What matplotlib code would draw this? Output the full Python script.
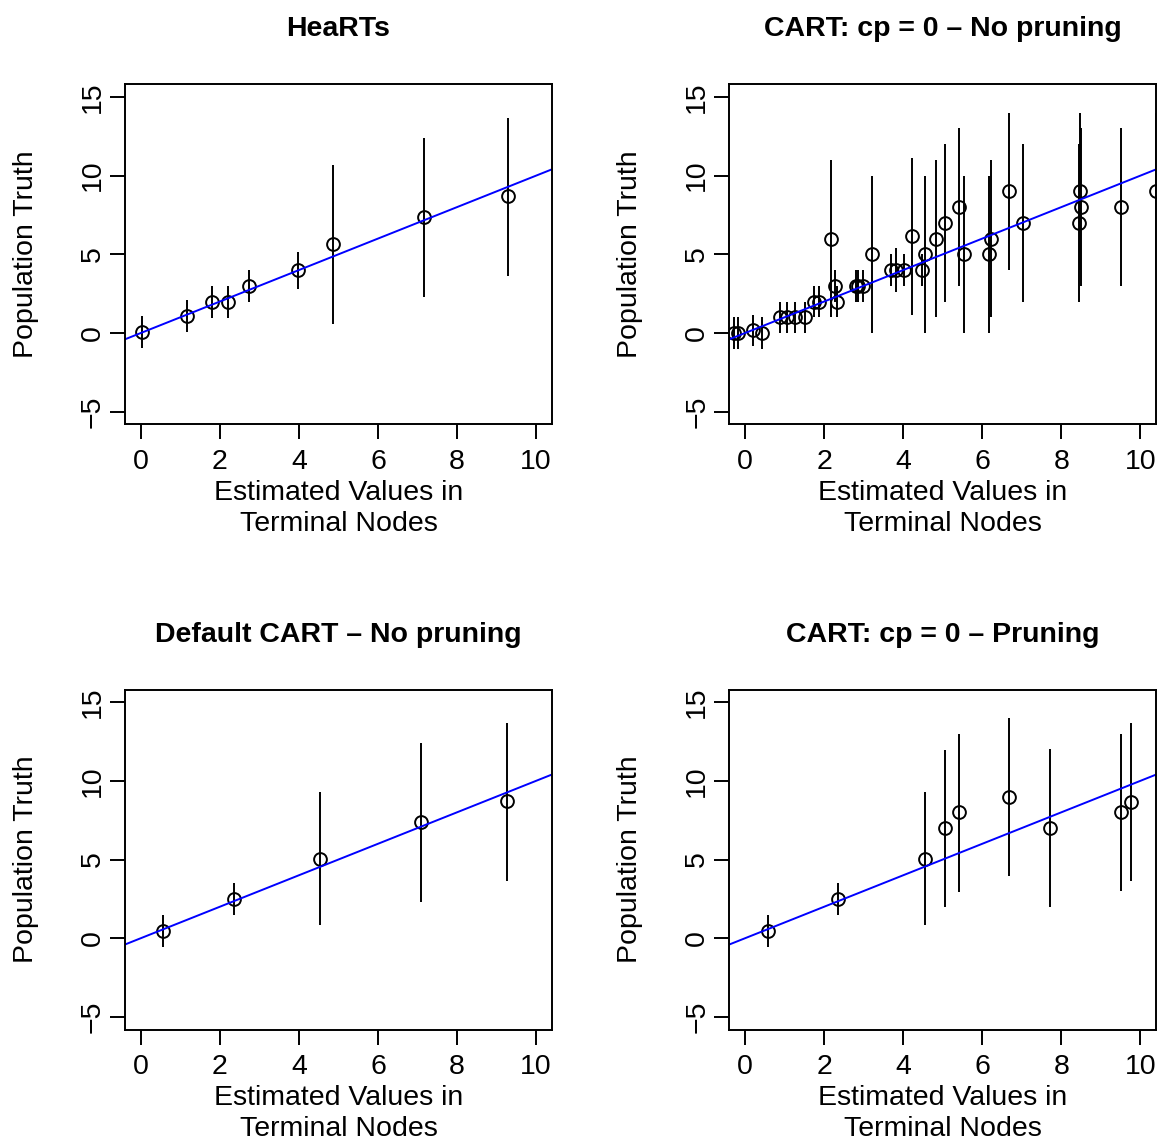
import matplotlib
matplotlib.use("Agg")
import matplotlib.pyplot as plt

plt.rcParams['font.family'] = ['Liberation Sans', 'DejaVu Sans']

# ---- data ----
titles = ["HeaRTs", "CART: cp = 0 \u2013 No pruning",
          "Default CART \u2013 No pruning", "CART: cp = 0 \u2013 Pruning"]

hearts_x = [0.03, 1.18, 1.80, 2.20, 2.74, 3.97, 4.87, 7.15, 9.28]
hearts_y = [0.06, 1.08, 2.0, 2.0, 3.0, 3.99, 5.63, 7.38, 8.69]
hearts_lo = [-0.95, 0.04, 0.95, 0.95, 1.94, 2.8, 0.59, 2.3, 3.63]
hearts_hi = [1.09, 2.1, 3.0, 3.0, 4.0, 5.15, 10.65, 12.4, 13.67]

cp0_x = [-0.27, -0.17, 0.19, 0.42, 0.88, 1.07, 1.27, 1.52, 1.73, 1.87,
         2.17, 2.27, 2.32, 2.80, 2.86, 2.97, 3.20, 3.68, 3.81, 4.03,
         4.23, 4.47, 4.55, 4.84, 5.05, 5.41, 5.53, 6.17, 6.23, 6.67,
         7.04, 8.44, 8.47, 8.49, 9.50, 10.38]
cp0_y = [0, 0, 0.17, 0, 1, 1, 1, 1, 2, 2,
         6, 3, 2, 3, 3, 3, 5, 4, 4, 4,
         6.14, 4, 5, 6, 7, 8, 5, 5, 6, 9,
         7, 7, 9, 8, 8, 9]
cp0_lo = [-1, -1, -0.85, -1, 0, 0, 0, 0, 1, 1,
          1, 2, 1, 2, 2, 2, 0, 3, 2.6, 3,
          1.14, 3, 0, 1, 2, 3, 0, 0, 1, 4,
          2, 2, 4, 3, 3, 4]
cp0_hi = [1, 1, 1.16, 1, 2, 2, 2, 2, 3, 3,
          11, 4, 3, 4, 4, 4, 10, 5, 5.4, 5,
          11.14, 5, 10, 11, 12, 13, 10, 10, 11, 14,
          12, 12, 14, 13, 13, 14]

def_x = [0.57, 2.35, 4.54, 7.09, 9.27]
def_y = [0.48, 2.49, 5.04, 7.36, 8.69]
def_lo = [-0.53, 1.45, 0.82, 2.32, 3.65]
def_hi = [1.47, 3.52, 9.26, 12.38, 13.69]

prun_x = [0.59, 2.36, 4.54, 5.05, 5.40, 6.67, 7.72, 9.50, 9.76]
prun_y = [0.48, 2.5, 5.04, 7.0, 8.0, 9.0, 7.0, 8.0, 8.65]
prun_lo = [-0.53, 1.45, 0.82, 1.96, 2.95, 3.96, 2.0, 3.0, 3.63]
prun_hi = [1.47, 3.52, 9.26, 11.98, 13.0, 13.99, 12.0, 13.0, 13.65]

xticks = [0, 2, 4, 6, 8, 10]
yticks = [-5, 0, 5, 10, 15]
xlabel = "Estimated Values in\nTerminal Nodes"
ylabel = "Population Truth"

panels = [
    (hearts_x, hearts_y, hearts_lo, hearts_hi),
    (cp0_x, cp0_y, cp0_lo, cp0_hi),
    (def_x, def_y, def_lo, def_hi),
    (prun_x, prun_y, prun_lo, prun_hi),
]

W, H = 1162, 1142
fig = plt.figure(figsize=(W / 100, H / 100), dpi=100)

lefts = [125, 729.3]
tops = [84.3, 689.5]
aw, ah = 427.0, 340.0

fs = 20.5
lw = 1.4
for i, (xs, ys, lo, hi) in enumerate(panels):
    r, c = divmod(i, 2)
    l = lefts[c] / W
    b = 1 - (tops[r] + ah) / H
    ax = fig.add_axes([l, b, aw / W, ah / H])
    ax.vlines(xs, lo, hi, colors='black', linewidth=lw)
    ax.plot(xs, ys, linestyle='none', marker='o', markersize=9.2,
            markerfacecolor='none', markeredgecolor='black', markeredgewidth=lw)
    ax.axline((0, 0), slope=1, color='#0000FF', linewidth=lw)
    ax.set_xlim(-0.4, 10.4)
    ax.set_ylim(-5.8, 15.8)
    ax.set_xticks(xticks)
    ax.set_yticks(yticks)
    ax.set_xticklabels([str(t) for t in xticks], fontsize=fs)
    ax.set_yticklabels([("\u2212" + str(-t)) if t < 0 else str(t) for t in yticks],
                       fontsize=fs, rotation=90, va='center')
    ax.tick_params(direction='out', length=10.5, width=lw)
    ax.tick_params(axis='x', pad=7.2)
    ax.tick_params(axis='y', pad=3.2)
    for s in ax.spines.values():
        s.set_linewidth(lw)
    ax.set_title(titles[i], fontsize=fs, fontweight='bold', pad=34.5)
    ax.set_xlabel(xlabel, fontsize=fs, linespacing=1.27)
    ax.xaxis.set_label_coords(0.5, -0.1635)
    ax.set_ylabel(ylabel, fontsize=fs)
    ax.yaxis.set_label_coords(-0.2015, 0.5)

fig.savefig("out.png", dpi=100, facecolor='white')
